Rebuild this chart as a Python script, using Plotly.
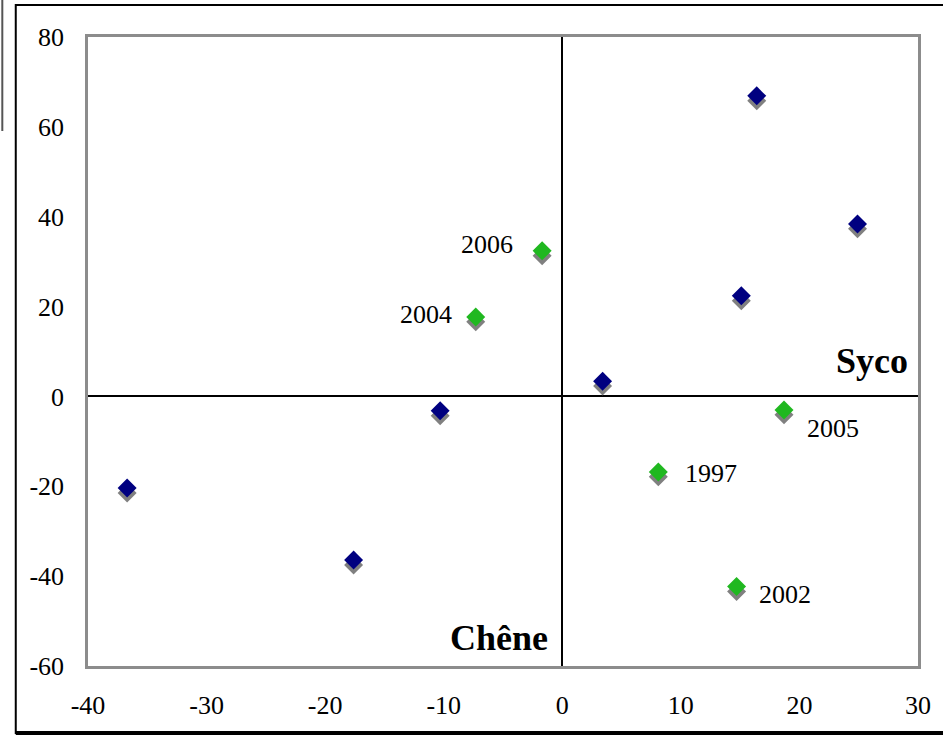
import plotly.graph_objects as go

# ---- data ----
blue_x = [16.4, 24.9, 15.1, 3.4, -10.3, -36.7, -17.6]
blue_y = [66.9, 38.4, 22.4, 3.4, -3.2, -20.4, -36.4]

green_x = [-1.7, -7.3, 18.7, 8.1, 14.7]
green_y = [32.4, 17.7, -3.0, -16.8, -42.3]
green_labels = ["2006", "2004", "2005", "1997", "2002"]

x_range = [-40, 30]
y_range = [-60, 80]
x_ticks = [-40, -30, -20, -10, 0, 10, 20, 30]
y_ticks = [-60, -40, -20, 0, 20, 40, 60, 80]
x_ticktext = ["-40", "-30", "-20", "-10", "0", "10", "20", "30"]
y_ticktext = ["-60", "-40", "-20", "0", "20", "40", "60", "80"]

quadrant_labels = ["Syco", "Chêne"]

# ---- style ----
FONT = "Liberation Serif, Times New Roman, serif"
NAVY = "#000080"
GREEN = "#20b820"
SHADOW = "#808080"
MSIZE = 14.6
SHADOW_DY = 1.1  # shadow offset (in y units, ~5 px)

label_style = [
    dict(xanchor="right", xshift=-27, yshift=6),
    dict(xanchor="right", xshift=-22, yshift=2),
    dict(xanchor="left", xshift=21, yshift=-19),
    dict(xanchor="left", xshift=25, yshift=-2),
    dict(xanchor="left", xshift=20, yshift=-8),
]

fig = go.Figure()

# shadows
fig.add_trace(go.Scatter(
    x=blue_x + green_x,
    y=[v - SHADOW_DY for v in blue_y + green_y],
    mode="markers",
    marker=dict(symbol="diamond", size=MSIZE, color=SHADOW, line=dict(width=0)),
    hoverinfo="skip", showlegend=False))

fig.add_trace(go.Scatter(
    x=blue_x, y=blue_y, mode="markers",
    marker=dict(symbol="diamond", size=MSIZE, color=NAVY, line=dict(width=0)),
    showlegend=False))

fig.add_trace(go.Scatter(
    x=green_x, y=green_y, mode="markers",
    marker=dict(symbol="diamond", size=MSIZE, color=GREEN, line=dict(width=0)),
    showlegend=False))

annotations = []
for xv, yv, lab, st in zip(green_x, green_y, green_labels, label_style):
    annotations.append(dict(
        x=xv, y=yv, xref="x", yref="y", text=lab, showarrow=False,
        yanchor="middle", font=dict(family=FONT, size=26, color="black"), **st))

annotations.append(dict(
    x=x_range[1], y=0, xref="x", yref="y", text="<b>" + quadrant_labels[0] + "</b>",
    showarrow=False, xanchor="right", yanchor="bottom", xshift=-8, yshift=13,
    font=dict(family=FONT, size=36, color="black")))
annotations.append(dict(
    x=0, y=y_range[0], xref="x", yref="y", text="<b>" + quadrant_labels[1] + "</b>",
    showarrow=False, xanchor="right", yanchor="bottom", xshift=-12, yshift=6,
    font=dict(family=FONT, size=36, color="black")))

W, H = 943, 736
L, R, T, B = 88, 22, 37, 70
pw, ph = W - L - R, H - T - B

def px_x(p):
    return (p - L) / pw

def px_y(p):
    return (H - B - p) / ph

shapes = [
    # outer frame (right edge lies outside the picture)
    dict(type="rect", xref="paper", yref="paper",
         x0=px_x(15.5), x1=px_x(1000), y0=px_y(733), y1=px_y(5),
         line=dict(color="black", width=2), layer="below"),
    dict(type="line", xref="paper", yref="paper",
         x0=px_x(15.5), x1=px_x(1000), y0=px_y(733), y1=px_y(733),
         line=dict(color="black", width=4), layer="below"),
    # stray left edge line
    dict(type="line", xref="paper", yref="paper",
         x0=px_x(2), x1=px_x(2), y0=px_y(0), y1=px_y(131),
         line=dict(color="#555555", width=2), layer="below"),
]

fig.update_layout(
    width=W, height=H,
    margin=dict(l=L, r=R, t=T, b=B, pad=0),
    paper_bgcolor="white", plot_bgcolor="white",
    font=dict(family=FONT, size=26, color="black"),
    annotations=annotations,
    shapes=shapes,
    xaxis=dict(range=x_range, tickvals=x_ticks, ticktext=x_ticktext, showgrid=False,
               zeroline=True, zerolinecolor="black", zerolinewidth=2,
               showline=True, mirror=True, linecolor="#8c8c8c", linewidth=2.5,
               ticks="", ticklabelstandoff=14,
               tickfont=dict(family=FONT, size=26, color="black"), fixedrange=True),
    yaxis=dict(range=y_range, tickvals=y_ticks, ticktext=y_ticktext, showgrid=False,
               zeroline=True, zerolinecolor="black", zerolinewidth=2,
               showline=True, mirror=True, linecolor="#8c8c8c", linewidth=2.5,
               ticks="", ticklabelstandoff=16,
               tickfont=dict(family=FONT, size=26, color="black"), fixedrange=True),
)

fig.write_html("out.html")
